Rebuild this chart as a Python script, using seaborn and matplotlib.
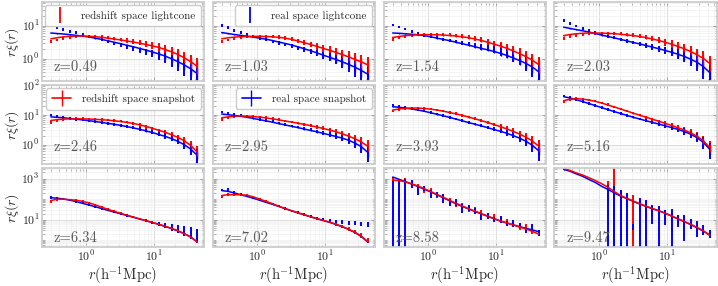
import numpy as np
import matplotlib
matplotlib.use("Agg")
import matplotlib.pyplot as plt
from matplotlib.lines import Line2D
from matplotlib.ticker import LogLocator, FixedLocator, NullFormatter
import seaborn as sns

# separation bins (h^-1 Mpc)
r = [0.30, 0.37, 0.46, 0.57, 0.71, 0.88, 1.09, 1.35, 1.68, 2.08, 2.58, 3.2,
     3.97, 4.93, 6.1, 7.6, 9.4, 11.7, 14.5, 18.0, 22.3, 27.7, 34.3, 42.6]
nan = np.nan

# ---- z = 0.49
lc_rsd_049 = [3.3, 3.7, 4.1, 4.5, 4.8, 4.9, 4.9, 4.8, 4.6, 4.35, 4.1, 3.85, 3.6, 3.35, 3.1, 2.85, 2.6, 2.3, 2.0, 1.7, 1.4, 1.1, 0.85, 0.62]
lc_real_049 = [10.0, 8.9, 7.8, 6.9, 6.1, 5.4, 4.8, 4.3, 3.8, 3.35, 2.95, 2.6, 2.3, 2.05, 1.82, 1.62, 1.45, 1.27, 1.1, 0.92, 0.75, 0.6, 0.45, 0.32]
snap_rsd_049 = [4.0, 4.3, 4.6, 4.75, 4.85, 4.85, 4.8, 4.65, 4.45, 4.2, 3.95, 3.7, 3.45, 3.2, 2.95, 2.7, 2.45, 2.2, 1.9, 1.62, 1.35, 1.07, 0.82, 0.6]
snap_real_049 = [6.0, 5.8, 5.6, 5.35, 5.1, 4.85, 4.55, 4.2, 3.85, 3.5, 3.15, 2.85, 2.55, 2.3, 2.05, 1.82, 1.6, 1.4, 1.2, 1.0, 0.82, 0.65, 0.5, 0.36]
# ---- z = 1.03
lc_rsd_103 = [3.3, 3.7, 4.1, 4.4, 4.65, 4.75, 4.8, 4.8, 4.75, 4.6, 4.3, 3.9, 3.5, 3.1, 2.75, 2.4, 2.1, 1.85, 1.6, 1.38, 1.18, 1.0, 0.83, 0.68]
lc_real_103 = [10.0, 8.6, 7.4, 6.3, 5.4, 4.7, 4.2, 3.75, 3.35, 3.0, 2.7, 2.4, 2.15, 1.9, 1.7, 1.5, 1.32, 1.15, 1.0, 0.86, 0.72, 0.58, 0.45, 0.34]
snap_rsd_103 = [4.0, 4.3, 4.5, 4.65, 4.7, 4.75, 4.75, 4.7, 4.6, 4.45, 4.2, 3.85, 3.45, 3.05, 2.7, 2.35, 2.05, 1.8, 1.55, 1.33, 1.13, 0.95, 0.8, 0.65]
snap_real_103 = [6.2, 5.8, 5.4, 5.1, 4.8, 4.5, 4.2, 3.9, 3.55, 3.2, 2.9, 2.6, 2.3, 2.0, 1.75, 1.5, 1.28, 1.1, 0.95, 0.8, 0.67, 0.55, 0.44, 0.34]
# ---- z = 1.54
lc_rsd_154 = [3.8, 4.3, 4.8, 5.2, 5.4, 5.5, 5.5, 5.5, 5.4, 5.3, 5.1, 4.9, 4.6, 4.2, 3.8, 3.3, 2.85, 2.45, 2.1, 1.75, 1.45, 1.15, 0.9, 0.68]
lc_real_154 = [10.5, 9.2, 8.0, 6.9, 5.9, 5.2, 4.7, 4.3, 3.95, 3.6, 3.3, 3.0, 2.75, 2.5, 2.3, 2.1, 1.9, 1.7, 1.5, 1.3, 1.1, 0.88, 0.65, 0.42]
snap_rsd_154 = [4.4, 4.7, 5.0, 5.2, 5.3, 5.35, 5.35, 5.3, 5.2, 5.05, 4.85, 4.6, 4.3, 3.95, 3.55, 3.15, 2.75, 2.4, 2.05, 1.72, 1.42, 1.15, 0.9, 0.66]
snap_real_154 = [6.0, 5.9, 5.7, 5.5, 5.3, 5.0, 4.6, 4.2, 3.85, 3.5, 3.15, 2.85, 2.55, 2.3, 2.05, 1.85, 1.65, 1.45, 1.25, 1.05, 0.88, 0.72, 0.56, 0.4]
# ---- z = 2.03
lc_rsd_203 = [4.0, 4.6, 5.1, 5.5, 5.8, 5.95, 6.0, 5.95, 5.85, 5.7, 5.5, 5.25, 4.95, 4.6, 4.2, 3.75, 3.3, 2.85, 2.45, 2.05, 1.7, 1.35, 1.05, 0.75]
lc_real_203 = [14.0, 11.8, 9.8, 8.2, 7.0, 6.1, 5.4, 4.8, 4.3, 3.9, 3.5, 3.15, 2.85, 2.55, 2.3, 2.05, 1.85, 1.65, 1.45, 1.25, 1.05, 0.83, 0.6, 0.38]
snap_rsd_203 = [5.0, 5.4, 5.7, 5.9, 6.0, 6.0, 5.95, 5.85, 5.7, 5.5, 5.25, 5.0, 4.7, 4.35, 3.95, 3.55, 3.15, 2.75, 2.35, 2.0, 1.65, 1.32, 1.02, 0.72]
snap_real_203 = [9.0, 8.3, 7.6, 7.0, 6.4, 5.8, 5.2, 4.7, 4.25, 3.85, 3.45, 3.1, 2.8, 2.5, 2.25, 2.0, 1.78, 1.57, 1.37, 1.17, 0.97, 0.78, 0.58, 0.38]
# ---- z = 2.46
lc_rsd_246 = [5.6, 6.3, 6.9, 7.3, 7.5, 7.5, 7.4, 7.3, 7.1, 6.85, 6.55, 6.2, 5.8, 5.3, 4.6, 4.0, 3.45, 2.95, 2.5, 2.1, 1.72, 1.35, 0.97, 0.6]
lc_real_246 = [10.0, 9.3, 8.5, 7.8, 7.2, 6.7, 6.3, 5.9, 5.55, 5.2, 4.85, 4.5, 4.1, 3.75, 3.4, 3.0, 2.65, 2.3, 2.0, 1.7, 1.4, 1.1, 0.75, 0.45]
snap_rsd_246 = [6.5, 6.9, 7.2, 7.35, 7.4, 7.35, 7.25, 7.1, 6.9, 6.65, 6.35, 6.0, 5.6, 5.15, 4.65, 4.1, 3.55, 3.05, 2.6, 2.15, 1.75, 1.35, 0.95, 0.58]
snap_real_246 = [8.6, 8.3, 8.0, 7.6, 7.2, 6.8, 6.4, 6.0, 5.6, 5.2, 4.85, 4.45, 4.05, 3.65, 3.3, 2.9, 2.55, 2.2, 1.9, 1.6, 1.3, 1.0, 0.72, 0.45]
# ---- z = 2.95
lc_rsd_295 = [7.0, 8.0, 8.8, 9.2, 9.2, 9.0, 8.6, 8.1, 7.5, 6.9, 6.35, 5.85, 5.35, 4.9, 4.45, 4.0, 3.6, 3.15, 2.75, 2.35, 1.95, 1.6, 1.25, 0.9]
lc_real_295 = [12.5, 11.5, 10.5, 9.6, 8.8, 8.0, 7.2, 6.5, 5.9, 5.3, 4.8, 4.3, 3.9, 3.5, 3.15, 2.85, 2.55, 2.25, 2.0, 1.75, 1.5, 1.2, 0.9, 0.6]
snap_rsd_295 = [8.0, 8.6, 9.0, 9.2, 9.1, 8.8, 8.4, 7.9, 7.35, 6.8, 6.25, 5.75, 5.25, 4.8, 4.35, 3.9, 3.5, 3.1, 2.7, 2.3, 1.92, 1.57, 1.22, 0.88]
snap_real_295 = [10.7, 10.2, 9.6, 9.0, 8.3, 7.6, 6.9, 6.3, 5.7, 5.1, 4.6, 4.15, 3.75, 3.35, 3.0, 2.7, 2.4, 2.12, 1.88, 1.65, 1.4, 1.12, 0.85, 0.55]
# ---- z = 3.93
lc_rsd_393 = [13.4, 15.0, 16.3, 17.0, 17.2, 16.8, 16.0, 14.9, 13.6, 12.3, 11.0, 9.8, 8.6, 7.5, 6.5, 5.6, 4.8, 4.1, 3.45, 2.85, 2.3, 1.8, 1.35, 0.9]
lc_real_393 = [21.0, 19.5, 18.0, 16.5, 15.0, 13.5, 12.0, 10.7, 9.5, 8.4, 7.4, 6.5, 5.7, 5.0, 4.4, 3.85, 3.35, 2.9, 2.5, 2.1, 1.7, 1.35, 1.0, 0.65]
snap_rsd_393 = [14.5, 15.8, 16.6, 17.0, 16.9, 16.4, 15.6, 14.5, 13.3, 12.0, 10.8, 9.6, 8.4, 7.35, 6.4, 5.5, 4.7, 4.0, 3.35, 2.78, 2.25, 1.77, 1.32, 0.88]
snap_real_393 = [19.0, 18.0, 17.0, 15.8, 14.5, 13.2, 11.8, 10.5, 9.3, 8.2, 7.2, 6.3, 5.5, 4.85, 4.25, 3.7, 3.2, 2.8, 2.4, 2.0, 1.65, 1.3, 0.95, 0.62]
# ---- z = 5.16
lc_rsd_516 = [28.0, 33.0, 35.0, 34.0, 32.0, 29.0, 25.5, 22.0, 18.8, 16.0, 13.6, 11.6, 9.9, 8.5, 7.3, 6.2, 5.3, 4.5, 3.8, 3.2, 2.6, 2.0, 1.4, 0.85]
lc_real_516 = [43.0, 38.0, 33.0, 28.5, 24.5, 21.0, 18.0, 15.5, 13.3, 11.4, 9.8, 8.5, 7.4, 6.5, 5.7, 5.0, 4.4, 3.85, 3.35, 2.85, 2.35, 1.8, 1.25, 0.75]
snap_rsd_516 = [30.0, 33.5, 35.0, 34.0, 31.5, 28.5, 25.0, 21.5, 18.4, 15.7, 13.4, 11.4, 9.75, 8.35, 7.15, 6.1, 5.2, 4.4, 3.7, 3.1, 2.5, 1.92, 1.35, 0.8]
snap_real_516 = [41.0, 37.0, 32.5, 28.0, 24.0, 20.5, 17.5, 15.0, 12.9, 11.1, 9.6, 8.3, 7.25, 6.35, 5.6, 4.9, 4.3, 3.75, 3.25, 2.75, 2.25, 1.72, 1.2, 0.7]
# ---- z = 6.34
lc_rsd_634 = [80, 98, 102, 96, 90, 79, 67, 54, 42, 32.5, 26, 21, 16.8, 13.6, 11.2, 9.1, 7.5, 6.1, 4.9, 3.9, 3.0, 2.2, 1.5, 1.0]
lc_real_634 = [120, 118, 104, 91, 77, 64, 53, 43.5, 35.5, 29, 23.8, 19.7, 16.2, 13.4, 11, 9.1, 7.6, 6.3, 5.3, 4.5, 3.8, 3.2, 2.7, 2.2]
snap_rsd_634 = [85, 100, 100, 95, 88, 78, 66, 53, 41, 32, 25.5, 20.5, 16.5, 13.5, 11, 9, 7.4, 6.0, 4.8, 3.8, 2.9, 2.1, 1.45, 0.85]
snap_real_634 = [117, 112, 102, 90, 76, 63, 52, 43, 35, 28.5, 23.5, 19.5, 16, 13.2, 10.8, 8.9, 7.3, 5.9, 4.7, 3.7, 2.85, 2.1, 1.45, 0.85]
# ---- z = 7.02
lc_rsd_702 = [140, 170, 172, 168, 160, 130, 102, 80, 61, 46, 36, 28, 22.5, 18, 14.3, 11.6, 9.5, 7.8, 6.2, 4.8, 3.6, 2.6, 1.7, 1.0]
lc_real_702 = [280, 300, 230, 175, 140, 113, 90, 72, 57, 45, 35.5, 28, 22.5, 18.5, 15, 12.5, 10.5, 9.3, 8.4, 7.8, 7.2, 6.8, 6.4, 6.0]
snap_rsd_702 = [150, 165, 166, 163, 155, 128, 100, 78, 60, 45, 35, 27.5, 22, 17.5, 14, 11.3, 9.3, 7.6, 6.0, 4.6, 3.4, 2.4, 1.55, 0.85]
snap_real_702 = [260, 240, 200, 165, 135, 110, 88, 70, 56, 44, 34.5, 27, 21.5, 17.2, 13.8, 11.1, 9.1, 7.4, 5.9, 4.5, 3.35, 2.35, 1.5, 0.8]
# ---- z = 8.58
lc_rsd_858 = [900, 700, 800, 500, 420, 280, 260, 150, 130, 90, 60, 52, 35, 32, 22, 16, 14, 9, 8, 6.5, 4.5, 5, 3, 2.6]
lc_real_858 = [350, 380, 420, 600, 330, 350, 200, 180, 120, 70, 75, 40, 40, 28, 16, 16, 11, 11, 7, 7, 5.5, 3.2, 4.5, 2.4]
snap_rsd_858 = [850, 800, 700, 560, 430, 320, 235, 170, 122, 87, 62, 46, 34, 26, 19.5, 14.8, 11.2, 8.6, 6.9, 5.5, 4.4, 3.5, 2.7, 2.0]
snap_real_858 = [1200, 930, 710, 540, 410, 300, 225, 162, 115, 83, 59, 44, 33, 25, 19, 14.5, 11, 8.5, 6.9, 5.6, 4.6, 3.8, 3.2, 2.6]
# ---- z = 9.47
lc_rsd_947 = [nan, nan, nan, nan, nan, nan, nan, 420, 1500, 120, 100, 70, 55, 40, 30, 25, 20, 13, 11, 7, 6, 5, 2.5, 2]
lc_real_947 = [nan, nan, nan, nan, nan, nan, nan, 200, 180, 120, 90, 4.7, 50, 45, 30, 22, 18, 16, 11, 9, 7, 5, 3.5, 2.2]
snap_rsd_947 = [3200, 2500, 1900, 1500, 1100, 800, 560, 380, 230, 150, 108, 80, 60, 45, 35, 27, 20.5, 15, 11, 8.2, 6.0, 4.2, 2.9, 1.7]
snap_real_947 = [2800, 2300, 1700, 1300, 900, 650, 420, 300, 200, 140, 105, 78, 58, 44, 34, 27, 21, 15, 11, 8, 5.8, 4.0, 2.8, 1.8]

# relative errors
lc_err_top = [0.1, 0.1, 0.1, 0.1, 0.1, 0.1, 0.1, 0.1, 0.1, 0.11, 0.12, 0.13, 0.14, 0.16, 0.18, 0.21, 0.24, 0.28, 0.32, 0.37, 0.43, 0.5, 0.58, 0.65]
snap_err_top = [0.02, 0.02, 0.02, 0.02, 0.02, 0.02, 0.03, 0.03, 0.03, 0.04, 0.04, 0.05, 0.06, 0.07, 0.08, 0.1, 0.12, 0.14, 0.17, 0.2, 0.24, 0.29, 0.35, 0.42]
lc_err_mid = [0.1, 0.1, 0.1, 0.1, 0.1, 0.1, 0.1, 0.1, 0.1, 0.1, 0.1, 0.1, 0.1, 0.11, 0.12, 0.13, 0.15, 0.17, 0.2, 0.23, 0.27, 0.33, 0.42, 0.55]
snap_err_mid = [0.01, 0.01, 0.01, 0.01, 0.01, 0.01, 0.01, 0.02, 0.02, 0.02, 0.02, 0.03, 0.03, 0.04, 0.04, 0.05, 0.06, 0.07, 0.08, 0.1, 0.12, 0.15, 0.2, 0.28]
lc_err_low = [0.15, 0.14, 0.13, 0.12, 0.12, 0.12, 0.12, 0.12, 0.12, 0.12, 0.12, 0.12, 0.12, 0.12, 0.12, 0.12, 0.13, 0.14, 0.16, 0.18, 0.2, 0.23, 0.26, 0.3]
lc_err_real_634 = [0.15, 0.14, 0.13, 0.12, 0.12, 0.12, 0.12, 0.12, 0.12, 0.12, 0.12, 0.12, 0.12, 0.12, 0.13, 0.15, 0.18, 0.22, 0.28, 0.35, 0.42, 0.5, 0.55, 0.6]
lc_err_rsd_858 = [0.3, 0.25, 0.3, 0.25, 0.3, 0.25, 0.3, 0.25, 0.3, 0.25, 0.3, 0.25, 0.3, 0.25, 0.3, 0.25, 0.3, 0.25, 0.3, 0.25, 0.3, 0.25, 0.3, 0.25]
lc_err_real_858 = [1.3, 1.4, 1.2, 0.4, 0.5, 0.3, 0.4, 0.3, 0.45, 0.35, 0.4, 0.45, 0.35, 0.3, 0.4, 0.35, 0.3, 0.35, 0.3, 0.35, 0.3, 0.3, 0.35, 0.3]
lc_err_rsd_947 = [0, 0, 0, 0, 0, 0, 0, 0.8, 1.5, 0.9, 0.5, 1.2, 0.6, 0.7, 0.5, 0.6, 0.5, 0.8, 0.4, 0.5, 0.4, 0.4, 0.3, 0.3]
lc_err_real_947 = [0, 0, 0, 0, 0, 0, 0, 1.5, 1.3, 1.4, 1.2, 0.3, 1.3, 1.1, 0.8, 1.2, 0.7, 1.1, 0.6, 0.9, 0.5, 0.7, 0.5, 0.4]

panels = [
    ("0.49", lc_rsd_049, lc_real_049, snap_rsd_049, snap_real_049, lc_err_top, lc_err_top, snap_err_top),
    ("1.03", lc_rsd_103, lc_real_103, snap_rsd_103, snap_real_103, lc_err_top, lc_err_top, snap_err_top),
    ("1.54", lc_rsd_154, lc_real_154, snap_rsd_154, snap_real_154, lc_err_top, lc_err_top, snap_err_top),
    ("2.03", lc_rsd_203, lc_real_203, snap_rsd_203, snap_real_203, lc_err_top, lc_err_top, snap_err_top),
    ("2.46", lc_rsd_246, lc_real_246, snap_rsd_246, snap_real_246, lc_err_mid, lc_err_mid, snap_err_mid),
    ("2.95", lc_rsd_295, lc_real_295, snap_rsd_295, snap_real_295, lc_err_mid, lc_err_mid, snap_err_mid),
    ("3.93", lc_rsd_393, lc_real_393, snap_rsd_393, snap_real_393, lc_err_mid, lc_err_mid, snap_err_mid),
    ("5.16", lc_rsd_516, lc_real_516, snap_rsd_516, snap_real_516, lc_err_mid, lc_err_mid, snap_err_mid),
    ("6.34", lc_rsd_634, lc_real_634, snap_rsd_634, snap_real_634, lc_err_low, lc_err_real_634, None),
    ("7.02", lc_rsd_702, lc_real_702, snap_rsd_702, snap_real_702, lc_err_low, lc_err_low, None),
    ("8.58", lc_rsd_858, lc_real_858, snap_rsd_858, snap_real_858, lc_err_rsd_858, lc_err_real_858, None),
    ("9.47", lc_rsd_947, lc_real_947, snap_rsd_947, snap_real_947, lc_err_rsd_947, lc_err_real_947, None),
]

row_ylims = [(0.21, 52), (0.22, 100), (0.45, 3200)]
z_text_y = [0.175, 0.22, 0.12]

sns.set_theme(style="whitegrid")
plt.rcParams['font.family'] = ['cmr10', 'DejaVu Sans']
plt.rcParams['mathtext.fontset'] = 'cm'
plt.rcParams['axes.formatter.use_mathtext'] = True

fig, axes = plt.subplots(3, 4, figsize=(7.18, 2.86), dpi=100, sharex=True, sharey='row')
fig.subplots_adjust(left=0.058, right=0.999, top=0.993, bottom=0.135, wspace=0.05, hspace=0.05)

rr = np.array(r)
for k, (ax, p) in enumerate(zip(axes.flat, panels)):
    z, lc_rsd, lc_real, sn_rsd, sn_real, e_rsd, e_real, e_snap = p
    row = k // 4
    ax.set_xscale('log')
    ax.set_yscale('log')
    lr = np.array(lc_rsd, float)
    lb = np.array(lc_real, float)
    sr = np.array(sn_rsd, float)
    sb = np.array(sn_real, float)
    # lightcone measurements
    ax.errorbar(rr, lr, yerr=lr * np.array(e_rsd), fmt='none', ecolor='red', elinewidth=1.4)
    ax.errorbar(rr, lb, yerr=lb * np.array(e_real), fmt='none', ecolor='blue', elinewidth=1.4)
    # snapshot measurements
    sns.lineplot(x=rr, y=sb, color='blue', lw=1.1, ax=ax)
    sns.lineplot(x=rr, y=sr, color='red', lw=1.1, ax=ax)
    if e_snap is not None:
        ax.errorbar(rr, sb, yerr=sb * np.array(e_snap), fmt='none', ecolor='blue', elinewidth=1.0)
        ax.errorbar(rr, sr, yerr=sr * np.array(e_snap), fmt='none', ecolor='red', elinewidth=1.0)

    ax.set_xlim(0.22, 55)
    ax.set_ylim(*row_ylims[row])
    ax.grid(which='major', color='0.85', lw=0.6)
    ax.grid(which='minor', color='0.93', lw=0.4)
    ax.tick_params(which='both', direction='in', top=True, right=True, bottom=True, left=True,
                   color='0.6', labelsize=8.5, pad=1.5)
    ax.tick_params(which='major', length=3, width=0.6)
    ax.tick_params(which='minor', length=1.8, width=0.5)
    for s in ax.spines.values():
        s.set_color('0.8')
    ax.text(0.075, z_text_y[row], 'z=' + z, transform=ax.transAxes, fontsize=10.5,
            color='0.35', va='center', ha='left')

for ax in axes[2]:
    ax.yaxis.set_major_locator(FixedLocator([10, 1000]))
    ax.yaxis.set_minor_locator(LogLocator(base=10, subs=np.arange(1, 10), numticks=30))
    ax.yaxis.set_minor_formatter(NullFormatter())
    ax.set_xlabel(r'$r(\mathrm{h}^{-1}\mathrm{Mpc})$', fontsize=10.5, labelpad=0)
for i in range(3):
    axes[i, 0].set_ylabel(r'$r\xi(r)$', fontsize=10)
    axes[i, 0].yaxis.set_label_coords(-0.125, 0.5)


def lc_handle(c):
    return Line2D([], [], color=c, marker='|', markersize=11, markeredgewidth=1.3, linestyle='none')


def snap_handle(c):
    return (Line2D([], [], color=c, lw=1.2),
            Line2D([], [], color=c, marker='|', markersize=11, markeredgewidth=1.0, linestyle='none'))


legend_kw = dict(loc='upper right', fontsize=8, borderaxespad=0.3, borderpad=0.5,
                 handlelength=1.75, handletextpad=1.0, framealpha=1, edgecolor='0.8')
axes[0, 0].legend([lc_handle('red')], ['redshift space lightcone'], **legend_kw)
axes[0, 1].legend([lc_handle('blue')], ['real space lightcone'], **legend_kw)
axes[1, 0].legend([snap_handle('red')], ['redshift space snapshot'], **legend_kw)
axes[1, 1].legend([snap_handle('blue')], ['real space snapshot'], **legend_kw)

fig.savefig('out.png', dpi=100)
